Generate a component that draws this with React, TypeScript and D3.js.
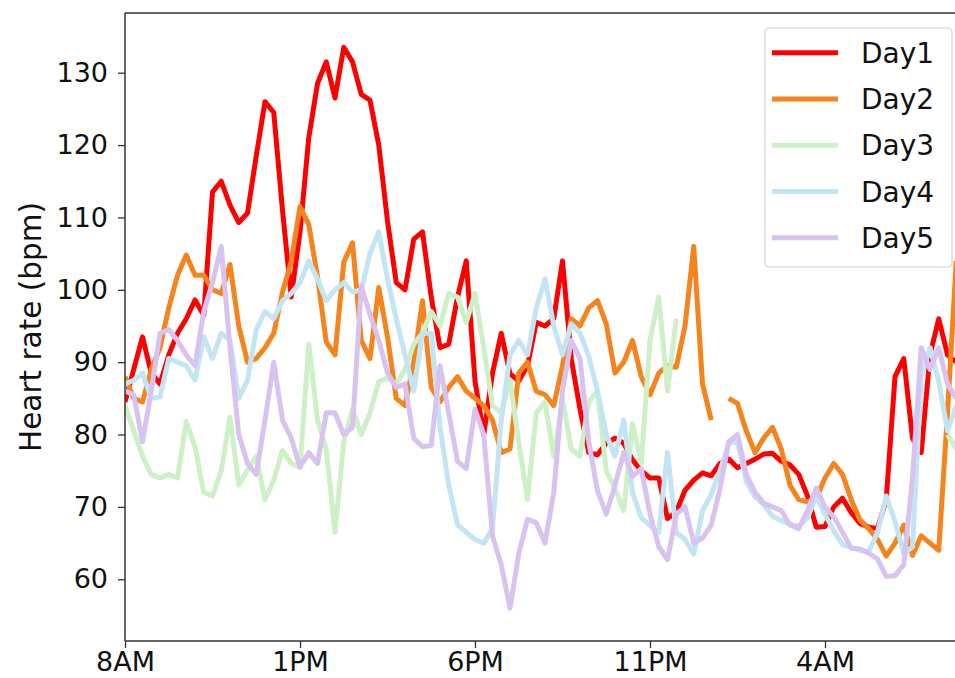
import React, { useEffect, useRef } from "react";
import { axisBottom, axisLeft, line, range, scaleLinear, select } from "d3";

// heart rate sampled every 15 min, starting at 8AM
const hours = range(96).map(i => i * 0.25);

const day1 = [
  84.5, 89, 93.5, 88.5, 87, 91, 94, 96, 98.6, 96.5,
  113.5, 115, 111.7, 109.3, 110.6, 118.5, 126, 124.5, 111, 99,
  108, 121, 128.5, 131.5, 126.5, 133.5, 131.5, 127, 126.2, 120,
  109.5, 101, 100, 107, 108, 99, 92, 92.5, 99, 104,
  87.4, 80, 88.5, 94, 88.4, 87.4, 89.5, 95.5, 95, 96,
  104, 90.5, 83.5, 77.5, 77.2, 78.8, 79.5, 78.8, 76.5, 75,
  74, 74, 68.4, 69.3, 72.3, 73.7, 74.7, 74.3, 76, 76.6,
  75.4, 76, 76.6, 77.3, 77.4, 76.3, 75.8, 74.5, 71.5, 67.2,
  67.3, 70, 71.2, 69.2, 67.7, 67.2, 67, 71, 88, 90.5,
  79.5, 77.5, 91, 96, 91, 90
];

const day2 = [
  88, 85, 84.5, 89, 92, 97.5, 102, 104.8, 102, 102,
  100, 99.5, 103.5, 95, 90, 90.5, 92, 94, 99.7, 103.9,
  111.5, 109, 101.8, 92.8, 91, 103.8, 106.5, 93, 90.5, 100.3,
  93.5, 85, 84, 90, 98.5, 86.5, 84.5, 86.5, 88, 86,
  85, 84, 82, 77.5, 78, 88.5, 90, 86, 85.5, 84,
  89.5, 96, 95, 97.5, 98.5, 95.3, 88.5, 90, 93, 88,
  85.5, 88.5, 89.5, 89.3, 95, 106, 87, 82, null, 85,
  84.3, 80.5, 77.5, 79.5, 81, 78, 73, 71, 70.7, 71.2,
  74, 76, 74.5, 71, 68.2, 67, 65.5, 63.2, 65, 67.5,
  63.3, 66, 65, 64, 83, 104
];

const day3 = [
  84, 80.5, 77, 74.5, 74, 74.5, 74, 81.8, 78.3, 72,
  71.5, 75, 82.4, 73, 75.1, 77, 71, 73.7, 77.8, 76,
  75.5, 92.5, 82, 78, 66.5, 79, 83.5, 80, 83, 87.3,
  87.8, 87, 89, 92.5, 94, 97, 95, 99.5, 99, 95.5,
  99.5, 92, 84, 83, 87.5, 79, 71, 83, 84.5, 77,
  85, 78, 77, 84.5, 86, 75, 72.5, 69.5, 81.5, 76,
  93, 99, 86, 96, null, null, null, null, null, null,
  null, null, null, null, null, null, null, null, null, null,
  null, null, null, null, null, null, null, null, null, null,
  null, null, null, null, 80, 78
];

const day4 = [
  87, 87.5, 88.5, 85, 85.2, 90.5, 90, 89.5, 87.5, 93.5,
  90.5, 94, 93, 85, 87.5, 94.5, 97, 96, 98.5, 99.5,
  101, 104, 101.5, 98.5, 100, 101, 99.7, 100, 105, 108,
  101.5, 96, 91, 86, 94, 94, 81, 73, 67.5, 66.5,
  65.5, 65, 67, 82, 91, 93, 91, 97.5, 101.5, 95,
  91, 95.3, 94, 90.8, 86, 80, 77, 82, 72, 68.5,
  67.4, 66.5, 77.5, 66.5, 65.5, 63.5, 69.5, 71.7, 75, 78.8,
  79, 73.5, 71.4, 70.3, 68.7, 68.1, 67.6, 67.3, 68.5, 71.5,
  69, 66.7, 64.8, 64.4, 64, 63.8, 66.5, 71.5, 68, 63.5,
  64.5, 88, 92, 87.3, 80.5, 84
];

const day5 = [
  86, 85.5, 79, 86, 94, 94.5, 93, 91, 89.5, 97,
  101, 106, 92, 80, 76, 74.5, 82, 90, 82, 79.5,
  75.5, 77.5, 76, 83, 83, 80, 81, 100.5, 96.6, 93,
  88.5, 86.5, 87, 79.5, 78.3, 78.5, 89.5, 83, 76.3, 75.3,
  83.5, 80, 66, 62, 56, 63.5, 68.3, 67.8, 65, 72,
  86, 93, 90.5, 79, 72.2, 69, 73, 77.5, 74.2, 75.3,
  69, 64.5, 62.7, 69, 70, 65, 65.7, 67.5, 72.5, 79,
  80, 74.5, 72, 70.5, 70, 69.5, 67.5, 67, 69.5, 72.6,
  70, 68.6, 66.5, 64.3, 64.2, 63.6, 62.8, 60.4, 60.5, 62,
  74, 92, 89, 92, 87, 85
];

const dayNames = ["Day1", "Day2", "Day3", "Day4", "Day5"];
const dayColors = ["#ff0000", "#f5841c", "#cdf0c7", "#c3e4f2", "#d8c2f0"];

const xTickHours = [0, 5, 10, 15, 20];
const xTickLabels = ["8AM", "1PM", "6PM", "11PM", "4AM"];
const yTicks = [60, 70, 80, 90, 100, 110, 120, 130];

const FONT = "DejaVu Sans";

export default function App() {
  const width = 955,
    height = 678;
  const left = 125,
    top = 13,
    bottom = 641,
    right = 965;

  const xAxisRef = useRef<SVGGElement>(null);
  const yAxisRef = useRef<SVGGElement>(null);

  const x = scaleLinear().domain([0, 24]).range([left, right]);
  const y = scaleLinear().domain([51.47, 138.25]).range([bottom, top]);

  const series = [day1, day2, day3, day4, day5];

  const path = line<number | null>()
    .defined(d => d != null)
    .x((_, i) => x(hours[i]))
    .y(d => y(d as number));

  useEffect(() => {
    const xAxis = axisBottom(x)
      .tickValues(xTickHours)
      .tickFormat((_, i) => xTickLabels[i])
      .tickSize(7)
      .tickPadding(4);
    const yAxis = axisLeft(y).tickValues(yTicks).tickSize(7).tickPadding(10);

    [select(xAxisRef.current), select(yAxisRef.current)].forEach((g, k) => {
      g.call(k === 0 ? (xAxis as any) : (yAxis as any));
      g.select(".domain").remove();
      g.selectAll(".tick line").attr("stroke", "#333").attr("stroke-width", 1.3);
      g.selectAll(".tick text")
        .attr("fill", "#111")
        .style("font-family", FONT)
        .style("font-size", "27px");
    });
  }, []);

  const legendRow = (i: number) => 52.7 + i * 46.25;

  return (
    <svg
      width={width}
      height={height}
      style={{ position: "absolute", left: 0, top: 0, background: "#fff" }}
    >
      <defs>
        <clipPath id="plot">
          <rect x={left} y={top} width={right - left} height={bottom - top} />
        </clipPath>
      </defs>
      <rect x={0} y={0} width={width} height={height} fill="#fff" />

      <g clipPath="url(#plot)">
        {series.map((d, i) => (
          <path
            key={dayNames[i]}
            d={path(d) || ""}
            fill="none"
            stroke={dayColors[i]}
            strokeWidth={5}
            strokeLinejoin="round"
          />
        ))}
      </g>

      {/* spines */}
      <g stroke="#333" strokeWidth={1.5} fill="none">
        <line x1={left} x2={left} y1={top} y2={bottom} />
        <line x1={left} x2={right} y1={bottom} y2={bottom} />
        <line x1={left} x2={right} y1={top} y2={top} />
      </g>

      <g ref={xAxisRef} transform={`translate(0, ${bottom})`} />
      <g ref={yAxisRef} transform={`translate(${left}, 0)`} />

      <text
        transform={`translate(41, ${(top + bottom) / 2}) rotate(-90)`}
        textAnchor="middle"
        fontFamily={FONT}
        fontSize={29.5}
        fill="#111"
      >
        Heart rate (bpm)
      </text>

      {/* legend */}
      <g>
        <rect
          x={765}
          y={28}
          width={187}
          height={239}
          rx={4}
          fill="#fff"
          fillOpacity={0.8}
          stroke="#d0d0d0"
          strokeWidth={1.2}
        />
        {dayNames.map((name, i) => (
          <g key={name}>
            <line
              x1={772}
              x2={838}
              y1={legendRow(i)}
              y2={legendRow(i)}
              stroke={dayColors[i]}
              strokeWidth={5}
            />
            <text
              x={861}
              y={legendRow(i)}
              dy="0.36em"
              fontFamily={FONT}
              fontSize={28}
              fill="#111"
            >
              {name}
            </text>
          </g>
        ))}
      </g>
    </svg>
  );
}
